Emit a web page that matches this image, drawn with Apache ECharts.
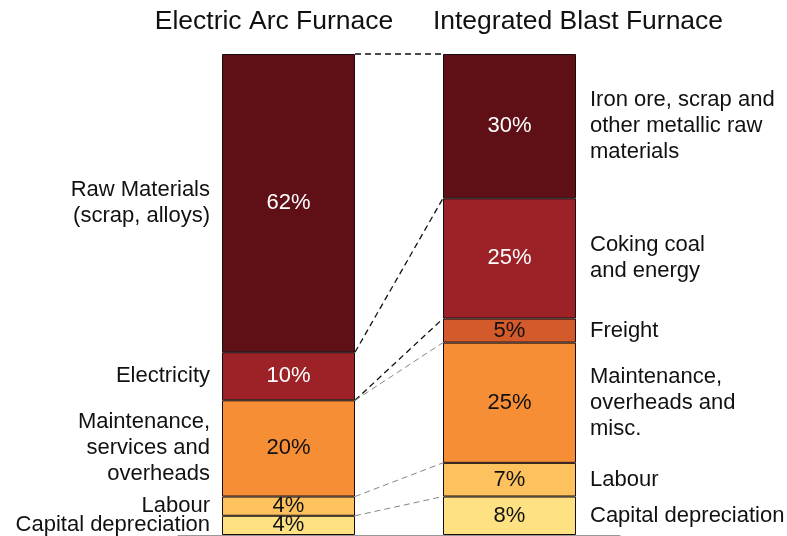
<!DOCTYPE html>
<html>
<head>
<meta charset="utf-8">
<script src="https://cdn.jsdelivr.net/npm/echarts@6/dist/echarts.min.js"></script>
<style>
  html, body { margin: 0; padding: 0; background: #fff; }
  #chart { width: 787px; height: 536px; }
</style>
</head>
<body>
<div id="chart"></div>
<script>
// the two furnaces
var furnaces = ['Electric Arc Furnace', 'Integrated Blast Furnace'];

// segments, bottom to top
var eafNames = ['Capital depreciation', 'Labour', 'Maintenance,\nservices and\noverheads', 'Electricity', 'Raw Materials\n(scrap, alloys)'];
var eafValues = [4, 4, 20, 10, 62];
var eafColors = ['#fee183', '#fdc25e', '#f68e36', '#9c2227', '#5f1016'];

var bfNames = ['Capital depreciation', 'Labour', 'Maintenance,\noverheads and\nmisc.', 'Freight', 'Coking coal\nand energy', 'Iron ore, scrap and\nother metallic raw\nmaterials'];
var bfValues = [8, 7, 25, 5, 25, 30];
var bfColors = ['#fee183', '#fdc25e', '#f68e36', '#d35a2a', '#9c2227', '#5f1016'];

// dashed links: [EAF level, BF level, dark?]
var links = [
  [100, 100, 1],
  [38, 70, 1],
  [28, 45, 1],
  [28, 40, 0],
  [8, 15, 0],
  [4, 8, 0]
];

var FONT = 'Liberation Sans, Arial, sans-serif';
var BAR_W = 133;
var darkFill = ['#5f1016', '#9c2227'];

var chart = echarts.init(document.getElementById('chart'));
var series = [];

function addBars(names, values, colors, idx, stack, side) {
  values.forEach(function (v, i) {
    var data = idx === 0 ? [v, '-'] : ['-', v];
    series.push({
      type: 'bar',
      stack: stack,
      barWidth: BAR_W,
      barGap: '-100%',
      data: data,
      silent: true,
      itemStyle: { color: colors[i], borderColor: '#1a0c0c', borderWidth: 1 },
      label: {
        show: true,
        position: 'inside',
        formatter: v + '%',
        fontFamily: FONT,
        fontSize: 22,
        color: darkFill.indexOf(colors[i]) >= 0 ? '#fff' : '#111'
      }
    });
    // transparent twin carrying the side label
    series.push({
      type: 'bar',
      stack: stack + 'Side',
      barWidth: BAR_W,
      barGap: '-100%',
      data: data,
      silent: true,
      itemStyle: { color: 'rgba(0,0,0,0)', borderWidth: 0 },
      label: {
        show: true,
        position: side,
        distance: side === 'left' ? 12 : 14,
        formatter: names[i],
        align: side === 'left' ? 'right' : 'left',
        fontFamily: FONT,
        fontSize: 22,
        lineHeight: 26,
        color: '#111'
      }
    });
  });
}

addBars(eafNames, eafValues, eafColors, 0, 'eaf', 'left');
addBars(bfNames, bfValues, bfColors, 1, 'bf', 'right');

series.push({
  type: 'custom',
  silent: true,
  z: 5,
  encode: { x: 0, y: 1 },
  data: links.map(function (l) { return [0, l[0], l[1], l[2]]; }),
  renderItem: function (params, api) {
    var p0 = api.coord([0, api.value(1)]);
    var p1 = api.coord([1, api.value(2)]);
    var dark = api.value(3) === 1;
    return {
      type: 'line',
      shape: { x1: p0[0] + BAR_W / 2, y1: p0[1], x2: p1[0] - BAR_W / 2, y2: p1[1] },
      style: {
        stroke: dark ? '#111' : '#777',
        lineWidth: dark ? 1.3 : 0.9,
        lineDash: [6, 4]
      }
    };
  }
});

chart.setOption({
  animation: false,
  title: [
    { text: furnaces[0], left: 269, top: 3, textAlign: 'center',
      textStyle: { fontFamily: FONT, fontSize: 26.5, fontWeight: 'normal', color: '#111' } },
    { text: furnaces[1], left: 573, top: 3, textAlign: 'center',
      textStyle: { fontFamily: FONT, fontSize: 26.5, fontWeight: 'normal', color: '#111' } }
  ],
  grid: { left: 178, right: 167, top: 54, bottom: 1 },
  xAxis: {
    type: 'category',
    data: furnaces,
    axisLine: { show: true, lineStyle: { color: '#999', width: 1 } },
    axisTick: { show: false },
    axisLabel: { show: false }
  },
  yAxis: {
    type: 'value',
    min: 0,
    max: 100,
    show: false,
    splitLine: { show: false }
  },
  series: series
});
</script>
</body>
</html>
